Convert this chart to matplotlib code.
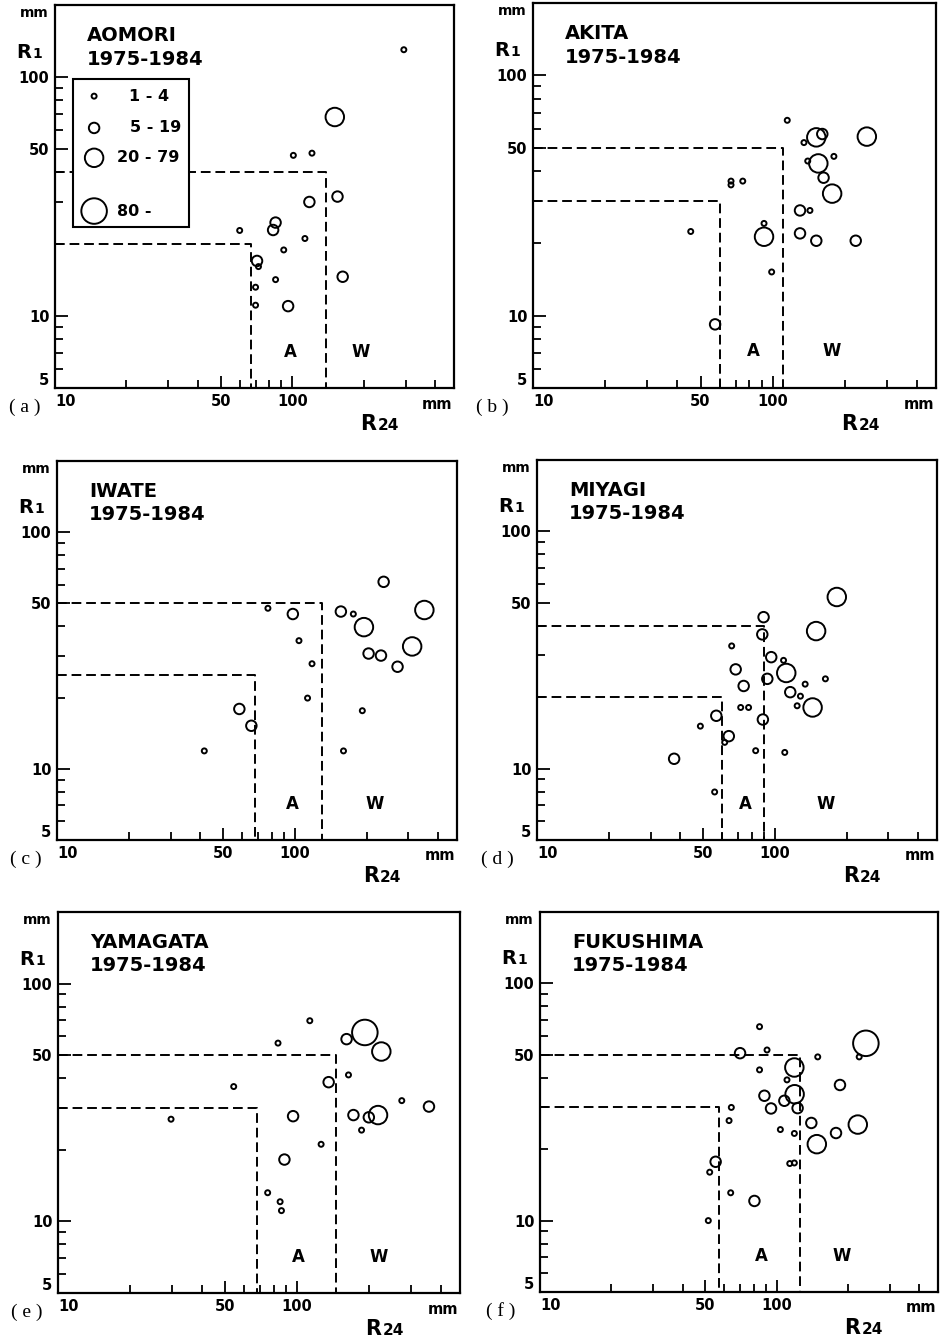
import matplotlib
matplotlib.use('Agg')
import matplotlib.pyplot as plt
from matplotlib.patches import Rectangle
from matplotlib.ticker import FixedLocator, NullFormatter

plt.rcParams['font.family'] = ['DejaVu Sans']
plt.rcParams['font.weight'] = 'bold'

# ---------------- data ----------------
# size class: 0 -> 1-4, 1 -> 5-19, 2 -> 20-79, 3 -> 80-
aomori_r24 = [295, 151, 101, 121, 155, 118, 85, 83, 60, 113, 92, 71, 72, 163, 85, 70, 70, 96]
aomori_r1 = [130, 68, 47, 48, 31.6, 30, 24.6, 22.9, 22.8, 21.1, 18.9, 17, 16.1, 14.6, 14.2, 13.2, 11.1, 11]
aomori_cls = [0, 2, 0, 0, 1, 1, 1, 1, 0, 0, 0, 1, 0, 1, 0, 0, 0, 1]

akita_r24 = [115, 247, 152, 161, 135, 180, 155, 140, 163, 177, 67, 67, 75, 130, 143, 92, 92, 130, 152, 222, 45.5, 99, 57.5]
akita_r1 = [65, 55.6, 55.2, 57, 52.5, 46, 43, 44, 37.5, 32.2, 36.3, 35, 36.3, 27.4, 27.4, 24.2, 21.3, 22, 20.5, 20.5, 22.4, 15.2, 9.2]
akita_cls = [0, 2, 2, 1, 0, 0, 2, 0, 1, 2, 0, 0, 0, 1, 0, 0, 2, 1, 1, 1, 0, 0, 1]

iwate_r24 = [236, 350, 156, 176, 77, 98, 195, 104, 311, 204, 230, 118, 270, 113, 192, 58.4, 65.6, 41.6, 160]
iwate_r1 = [61.7, 46.9, 46.2, 45.1, 47.7, 45.1, 39.7, 34.8, 32.9, 30.7, 30.1, 27.8, 27, 19.9, 17.6, 17.9, 15.2, 11.9, 11.9]
iwate_cls = [1, 2, 1, 0, 0, 1, 2, 0, 2, 1, 1, 0, 1, 0, 0, 1, 1, 0, 0]

miyagi_r24 = [182, 89.6, 88.5, 149, 65.8, 96.5, 108.7, 111.6, 68.4, 92.9, 73.9, 163, 134, 116, 128, 124, 144,
              71.8, 77.5, 56.7, 89, 48.6, 64, 61.5, 83, 110, 37.7, 55.8]
miyagi_r1 = [52.9, 43.5, 36.8, 38, 32.9, 29.5, 28.6, 25.3, 26.2, 23.9, 22.3, 23.9, 22.7, 21, 20.2, 18.4, 18.1,
             18.1, 18.1, 16.7, 16.1, 15.1, 13.7, 12.9, 11.9, 11.7, 11, 7.97]
miyagi_cls = [2, 1, 1, 2, 0, 1, 0, 2, 1, 1, 1, 0, 0, 1, 0, 0, 2, 0, 0, 1, 1, 0, 1, 0, 0, 0, 1, 0]

yamagata_r24 = [113, 192, 161, 83.2, 225, 164, 135.5, 54.3, 274, 356, 172, 199.5, 218, 186, 96.2, 29.7, 126,
                88.5, 75.3, 84.9, 86]
yamagata_r1 = [69.8, 62.3, 58.4, 56.2, 51.8, 41.3, 38.5, 36.9, 32.2, 30.4, 28, 27.4, 28, 24.2, 27.7, 26.9, 21.1,
               18.2, 13.2, 12.1, 11.1]
yamagata_cls = [0, 3, 1, 0, 2, 0, 1, 0, 0, 1, 1, 1, 2, 0, 1, 0, 0, 1, 0, 0, 0]

fukushima_r24 = [84.6, 238, 223, 91, 70, 149, 118.7, 84.6, 110.5, 185, 119, 88.7, 107.7, 94.6, 122.5, 64.3, 62.9,
                 140, 220, 103.6, 118.7, 178, 147.7, 55.2, 52.1, 113.5, 118.7, 63.9, 80.5, 51.4]
fukushima_r1 = [65.7, 55.9, 49, 52.4, 50.8, 49, 44.2, 43.2, 39.2, 37.3, 34.1, 33.6, 32, 29.7, 29.8, 30, 26.4,
                25.8, 25.4, 24.2, 23.3, 23.4, 21, 17.7, 16, 17.4, 17.5, 13.1, 12.1, 10]
fukushima_cls = [0, 3, 0, 0, 1, 0, 2, 0, 0, 1, 2, 1, 1, 1, 1, 0, 0, 1, 2, 0, 0, 1, 2, 1, 0, 0, 0, 0, 1, 0]

prefectures = ['AOMORI', 'AKITA', 'IWATE', 'MIYAGI', 'YAMAGATA', 'FUKUSHIMA']
period = '1975-1984'
panel_tags = ['( a )', '( b )', '( c )', '( d )', '( e )', '( f )']

# threshold boundaries (dashed L-shaped lines)
inner_x = [67, 60, 68, 60, 68, 57]
inner_y = [20, 30, 25, 20, 30, 30]
outer_x = [138, 110, 130, 90, 145, 125]
outer_y = [40, 50, 50, 40, 50, 50]
label_a_x = [98, 83, 98, 75, 101, 86]
label_w_x = [195, 176, 217, 163, 219, 188]
region_label_y = 7.1

size_labels = ['1 - 4', '5 - 19', '20 - 79', '80 -']

x_major = [10, 50, 100]
x_major_labels = ['10', '50', '100']
x_minor = [20, 30, 40, 60, 70, 80, 90, 200, 300, 400]
y_major = [5, 10, 50, 100]
y_major_labels = ['5', '10', '50', '100']
y_minor = [6, 7, 8, 9, 20, 30, 40, 60, 70, 80, 90]

# ---------------- styling ----------------
marker_area = [13, 57, 177, 338]
W, H = 943, 1340
rects_px = [(55, 5, 454, 388), (533, 3, 936, 388),
            (57, 461, 457, 840), (537, 460, 937, 840),
            (58, 912, 460, 1293), (540, 912, 938, 1292)]

data = [(aomori_r24, aomori_r1, aomori_cls), (akita_r24, akita_r1, akita_cls),
        (iwate_r24, iwate_r1, iwate_cls), (miyagi_r24, miyagi_r1, miyagi_cls),
        (yamagata_r24, yamagata_r1, yamagata_cls), (fukushima_r24, fukushima_r1, fukushima_cls)]

fig = plt.figure(figsize=(W / 100, H / 100), dpi=100)
dash = (0, (5, 2.5))
mlw = 1.4

for i, (l, t, r, b) in enumerate(rects_px):
    ax = fig.add_axes([l / W, 1 - b / H, (r - l) / W, (b - t) / H])
    ax.set_xscale('log')
    ax.set_yscale('log')
    xs, ys, cl = data[i]
    ax.scatter(xs, ys, s=[marker_area[c] for c in cl], facecolors='none',
               edgecolors='black', linewidths=mlw, zorder=3)
    ax.plot([10, inner_x[i], inner_x[i]], [inner_y[i], inner_y[i], 5],
            ls=dash, lw=1.4, color='black', zorder=2)
    ax.plot([10, outer_x[i], outer_x[i]], [outer_y[i], outer_y[i], 5],
            ls=dash, lw=1.4, color='black', zorder=2)
    ax.text(label_a_x[i], region_label_y, 'A', ha='center', va='center', fontsize=12)
    ax.text(label_w_x[i], region_label_y, 'W', ha='center', va='center', fontsize=12)

    ax.set_xlim(10, 480)
    ax.set_ylim(5, 200)
    for s in ax.spines.values():
        s.set_linewidth(1.6)
    ax.xaxis.set_major_locator(FixedLocator(x_major))
    ax.xaxis.set_minor_locator(FixedLocator(x_minor))
    ax.yaxis.set_major_locator(FixedLocator(y_major))
    ax.yaxis.set_minor_locator(FixedLocator(y_minor))
    ax.set_xticklabels(x_major_labels)
    ax.set_yticklabels(y_major_labels)
    ax.xaxis.set_minor_formatter(NullFormatter())
    ax.yaxis.set_minor_formatter(NullFormatter())
    ax.tick_params(which='both', direction='in', top=False, right=False, labelsize=10.5, width=1.3)
    ax.tick_params(which='major', length=9, pad=4)
    ax.tick_params(which='minor', length=5.5)
    ax.get_xticklabels()[0].set_horizontalalignment('left')
    ax.get_yticklabels()[0].set_verticalalignment('bottom')

    tr = ax.transAxes
    ax.text(0.08, 0.945, prefectures[i] + '\n' + period, transform=tr, ha='left', va='top',
            fontsize=14, linespacing=1.3)
    ax.text(-0.052, 0.978, 'mm', transform=tr, ha='center', va='center', fontsize=10)
    ax.text(-0.097, 0.862, 'R', transform=tr, ha='left', va='baseline', fontsize=14)
    ax.text(-0.057, 0.862, '1', transform=tr, ha='left', va='baseline', fontsize=10)
    ax.text(0.995, -0.042, 'mm', transform=tr, ha='right', va='center', fontsize=10.5)
    ax.text(0.765, -0.11, 'R', transform=tr, ha='left', va='baseline', fontsize=15)
    ax.text(0.808, -0.11, '24', transform=tr, ha='left', va='baseline', fontsize=11)
    tag_x = -0.077 if i % 2 == 0 else -0.10
    ax.text(tag_x, -0.05, panel_tags[i], transform=tr, ha='center', va='center',
            fontsize=14, family='Liberation Serif', fontweight='normal')

    if i == 0:
        ax.add_patch(Rectangle((0.045, 0.42), 0.291, 0.387, transform=tr, facecolor='white',
                               edgecolor='black', lw=1.5, zorder=4))
        leg_y = [0.762, 0.679, 0.601, 0.462]
        leg_tx = [0.185, 0.188, 0.155, 0.155]
        ax.scatter([0.098] * 4, leg_y, s=marker_area, transform=tr, facecolors='none',
                   edgecolors='black', linewidths=mlw, zorder=5, clip_on=False)
        for ty, tx, lab in zip(leg_y, leg_tx, size_labels):
            ax.text(tx, ty, lab, transform=tr, ha='left', va='center', fontsize=11.5, zorder=6)
        ax.set_xlim(10, 480)
        ax.set_ylim(5, 200)

fig.savefig('out.png', dpi=100)
